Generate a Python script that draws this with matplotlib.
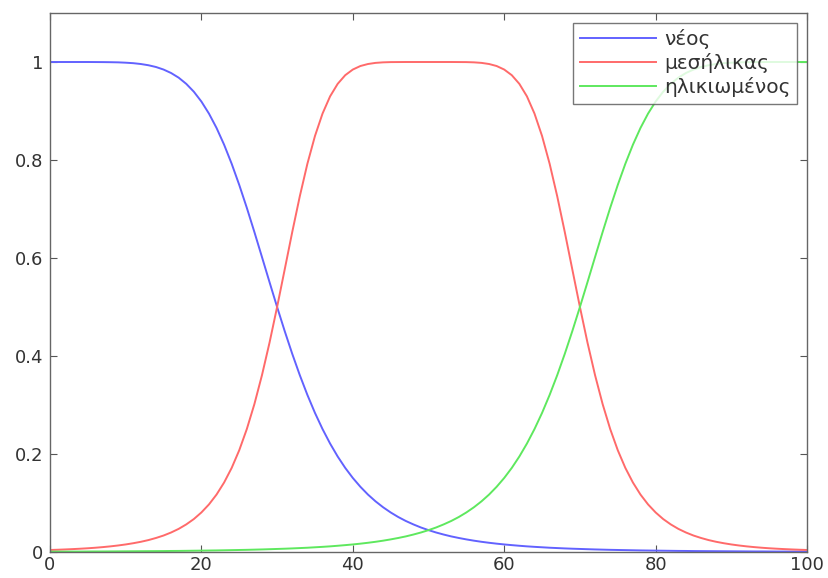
import matplotlib
matplotlib.use("Agg")
import matplotlib.pyplot as plt

x_vals = list(range(0, 101))

neos = [1.0000, 1.0000, 1.0000, 1.0000, 1.0000, 1.0000, 0.9999, 0.9998, 0.9996, 0.9993,
        0.9986, 0.9976, 0.9959, 0.9934, 0.9898, 0.9846, 0.9775, 0.9680, 0.9554, 0.9394,
        0.9193, 0.8947, 0.8654, 0.8312, 0.7923, 0.7491, 0.7024, 0.6530, 0.6020, 0.5507,
        0.5000, 0.4510, 0.4044, 0.3608, 0.3206, 0.2839, 0.2509, 0.2213, 0.1949, 0.1716,
        0.1511, 0.1331, 0.1172, 0.1034, 0.0913, 0.0807, 0.0714, 0.0633, 0.0563, 0.0500,
        0.0446, 0.0398, 0.0356, 0.0318, 0.0286, 0.0257, 0.0231, 0.0208, 0.0188, 0.0170,
        0.0154, 0.0140, 0.0127, 0.0115, 0.0105, 0.0096, 0.0087, 0.0080, 0.0073, 0.0067,
        0.0062, 0.0057, 0.0052, 0.0048, 0.0044, 0.0041, 0.0038, 0.0035, 0.0032, 0.0030,
        0.0028, 0.0026, 0.0024, 0.0022, 0.0021, 0.0019, 0.0018, 0.0017, 0.0016, 0.0015,
        0.0014, 0.0013, 0.0012, 0.0011, 0.0011, 0.0010, 0.0009, 0.0009, 0.0008, 0.0008,
        0.0007]

mesilikas = [0.0041, 0.0046, 0.0052, 0.0059, 0.0067, 0.0076, 0.0087, 0.0100, 0.0115, 0.0133,
             0.0154, 0.0179, 0.0208, 0.0243, 0.0286, 0.0336, 0.0398, 0.0472, 0.0563, 0.0672,
             0.0807, 0.0971, 0.1172, 0.1418, 0.1716, 0.2077, 0.2509, 0.3018, 0.3608, 0.4273,
             0.5000, 0.5763, 0.6530, 0.7261, 0.7923, 0.8489, 0.8947, 0.9299, 0.9554, 0.9731,
             0.9846, 0.9918, 0.9959, 0.9982, 0.9993, 0.9998, 0.9999, 1.0000, 1.0000, 1.0000,
             1.0000, 1.0000, 1.0000, 1.0000, 0.9999, 0.9998, 0.9993, 0.9982, 0.9959, 0.9918,
             0.9846, 0.9731, 0.9554, 0.9299, 0.8947, 0.8489, 0.7923, 0.7261, 0.6530, 0.5763,
             0.5000, 0.4273, 0.3608, 0.3018, 0.2509, 0.2077, 0.1716, 0.1418, 0.1172, 0.0971,
             0.0807, 0.0672, 0.0563, 0.0472, 0.0398, 0.0336, 0.0286, 0.0243, 0.0208, 0.0179,
             0.0154, 0.0133, 0.0115, 0.0100, 0.0087, 0.0076, 0.0067, 0.0059, 0.0052, 0.0046,
             0.0041]

ilikiomenos = [0.0007, 0.0008, 0.0008, 0.0009, 0.0009, 0.0010, 0.0011, 0.0011, 0.0012, 0.0013,
               0.0014, 0.0015, 0.0016, 0.0017, 0.0018, 0.0019, 0.0021, 0.0022, 0.0024, 0.0026,
               0.0028, 0.0030, 0.0032, 0.0035, 0.0038, 0.0041, 0.0044, 0.0048, 0.0052, 0.0057,
               0.0062, 0.0067, 0.0073, 0.0080, 0.0087, 0.0096, 0.0105, 0.0115, 0.0127, 0.0140,
               0.0154, 0.0170, 0.0188, 0.0208, 0.0231, 0.0257, 0.0286, 0.0318, 0.0356, 0.0398,
               0.0446, 0.0500, 0.0563, 0.0633, 0.0714, 0.0807, 0.0913, 0.1034, 0.1172, 0.1331,
               0.1511, 0.1716, 0.1949, 0.2213, 0.2509, 0.2839, 0.3206, 0.3608, 0.4044, 0.4510,
               0.5000, 0.5507, 0.6020, 0.6530, 0.7024, 0.7491, 0.7923, 0.8312, 0.8654, 0.8947,
               0.9193, 0.9394, 0.9554, 0.9680, 0.9775, 0.9846, 0.9898, 0.9934, 0.9959, 0.9976,
               0.9986, 0.9993, 0.9996, 0.9998, 0.9999, 1.0000, 1.0000, 1.0000, 1.0000, 1.0000,
               1.0000]

labels = ["νέος", "μεσήλικας", "ηλικιωμένος"]
colors = ["#6262ff", "#ff6a6a", "#5ee85e"]

x_ticks = [0, 20, 40, 60, 80, 100]
y_ticks = [0, 0.2, 0.4, 0.6, 0.8, 1]
y_ticklabels = ["0", "0.2", "0.4", "0.6", "0.8", "1"]

plt.rcParams['font.family'] = ['DejaVu Sans']

fig = plt.figure(figsize=(8.29, 5.78), dpi=100)
ax = fig.add_axes([0.0603, 0.045, 0.9132, 0.9325])

for ys, lab, c in zip([neos, mesilikas, ilikiomenos], labels, colors):
    ax.plot(x_vals, ys, color=c, lw=1.4, label=lab)

ax.set_xlim(0, 100)
ax.set_ylim(0, 1.1)
ax.set_xticks(x_ticks)
ax.set_yticks(y_ticks)
ax.set_yticklabels(y_ticklabels)
ax.tick_params(direction='in', top=True, right=True, length=5, width=0.8,
               color='#555555', labelcolor='#333333', labelsize=13)
ax.tick_params(axis='x', pad=3)
ax.tick_params(axis='y', pad=5)
for s in ax.spines.values():
    s.set_color('#666666')
    s.set_linewidth(1.0)

leg = ax.legend(loc='upper right', bbox_to_anchor=(0.9868, 0.9814), fontsize=14.5,
                frameon=True, fancybox=False, edgecolor='#555555',
                handlelength=3.8, handletextpad=0.4, borderpad=0.32,
                labelspacing=0.19, borderaxespad=0)
leg.get_frame().set_linewidth(1.0)
for t in leg.get_texts():
    t.set_color('#333333')

fig.savefig("out.png", dpi=100)
